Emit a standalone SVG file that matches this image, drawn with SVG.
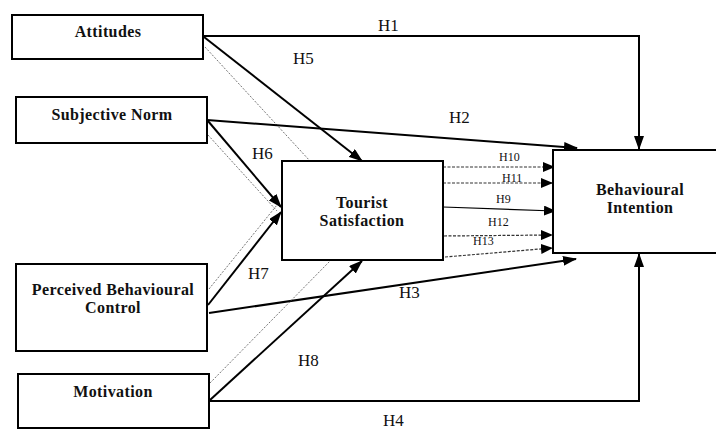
<svg xmlns="http://www.w3.org/2000/svg" width="716" height="430" viewBox="0 0 716 430">
<style>
.box{fill:#fff;stroke:#000;stroke-width:2}
.nt{font-family:"Liberation Serif","Times New Roman",serif;font-weight:bold;font-size:16px;letter-spacing:0.4px;text-anchor:middle;fill:#111}
.hl{font-family:"Liberation Serif","Times New Roman",serif;font-size:17px;fill:#111}
.hs{font-family:"Liberation Serif","Times New Roman",serif;font-size:12px;fill:#111}
.th{fill:none;stroke:#000;stroke-width:2}
.tn{fill:none;stroke:#000;stroke-width:1.2}
.dn{fill:none;stroke:#333;stroke-width:1.2;stroke-dasharray:3,1.5}
.dg{fill:none;stroke:#666;stroke-width:0.9;stroke-dasharray:2,1.5}
</style>
<defs>
<marker id="ab" markerWidth="14" markerHeight="10" refX="13" refY="5" orient="auto" markerUnits="userSpaceOnUse"><path d="M0,0 L14,5 L0,10 Z" fill="#000"/></marker>
<marker id="as" markerWidth="12" markerHeight="10" refX="11" refY="5" orient="auto" markerUnits="userSpaceOnUse"><path d="M0,0 L12,5 L0,10 Z" fill="#000"/></marker>
</defs>
<rect width="716" height="430" fill="#fff"/>
<g id="connectors">
<polyline class="th" points="203,36 639,36 639,149" marker-end="url(#ab)"/>
<line class="th" x1="204" y1="37" x2="362" y2="161" marker-end="url(#ab)"/>
<line class="dg" x1="205" y1="47" x2="310" y2="161"/>
<line class="th" x1="207" y1="120" x2="577" y2="148" marker-end="url(#ab)"/>
<line class="th" x1="208" y1="121" x2="281" y2="207" marker-end="url(#ab)"/>
<line class="dg" x1="208" y1="135" x2="277" y2="211"/>
<line class="th" x1="208" y1="305" x2="281" y2="212" marker-end="url(#ab)"/>
<line class="dg" x1="209" y1="289" x2="277" y2="205"/>
<line class="th" x1="209" y1="313" x2="576" y2="259" marker-end="url(#ab)"/>
<line class="th" x1="210" y1="400" x2="362" y2="261" marker-end="url(#ab)"/>
<line class="dg" x1="210" y1="383" x2="330" y2="261"/>
<polyline class="th" points="210,401 639,401 639,254" marker-end="url(#ab)"/>
<line class="dn" x1="443" y1="167" x2="554" y2="167" marker-end="url(#as)"/>
<line class="dn" x1="443" y1="183" x2="552" y2="183" marker-end="url(#as)"/>
<line class="tn" x1="443" y1="207" x2="555" y2="211" marker-end="url(#as)"/>
<line class="dn" x1="444" y1="236" x2="552" y2="235" marker-end="url(#as)"/>
<line class="dn" x1="445" y1="257" x2="552" y2="248" marker-end="url(#as)"/>
</g>
<g id="labels">
<text class="hl" x="378" y="31">H1</text>
<text class="hl" x="293" y="64">H5</text>
<text class="hl" x="449" y="123">H2</text>
<text class="hl" x="252" y="159">H6</text>
<text class="hl" x="248" y="279">H7</text>
<text class="hl" x="298" y="366">H8</text>
<text class="hl" x="399" y="298">H3</text>
<text class="hl" x="383" y="426">H4</text>
<text class="hs" x="499" y="161">H10</text>
<text class="hs" x="502" y="182">H11</text>
<text class="hs" x="496" y="203">H9</text>
<text class="hs" x="488" y="226">H12</text>
<text class="hs" x="473" y="245">H13</text>
</g>
<g id="attitudes"><rect class="box" x="12" y="15" width="191" height="44"/><text class="nt" x="108" y="37">Attitudes</text></g>
<g id="subjective-norm"><rect class="box" x="16" y="97" width="191" height="46"/><text class="nt" x="112" y="120">Subjective Norm</text></g>
<g id="perceived-behavioural-control"><rect class="box" x="16" y="264" width="191" height="87"/><text class="nt" x="113" y="295">Perceived Behavioural</text><text class="nt" x="113" y="313">Control</text></g>
<g id="motivation"><rect class="box" x="18" y="374" width="191" height="54"/><text class="nt" x="113" y="397">Motivation</text></g>
<g id="tourist-satisfaction"><rect class="box" x="282" y="161" width="161" height="99"/><text class="nt" x="362" y="208">Tourist</text><text class="nt" x="362" y="226">Satisfaction</text></g>
<g id="behavioural-intention"><rect class="box" x="553" y="150" width="170" height="103"/><text class="nt" x="640" y="195">Behavioural</text><text class="nt" x="640" y="213">Intention</text></g>
</svg>
